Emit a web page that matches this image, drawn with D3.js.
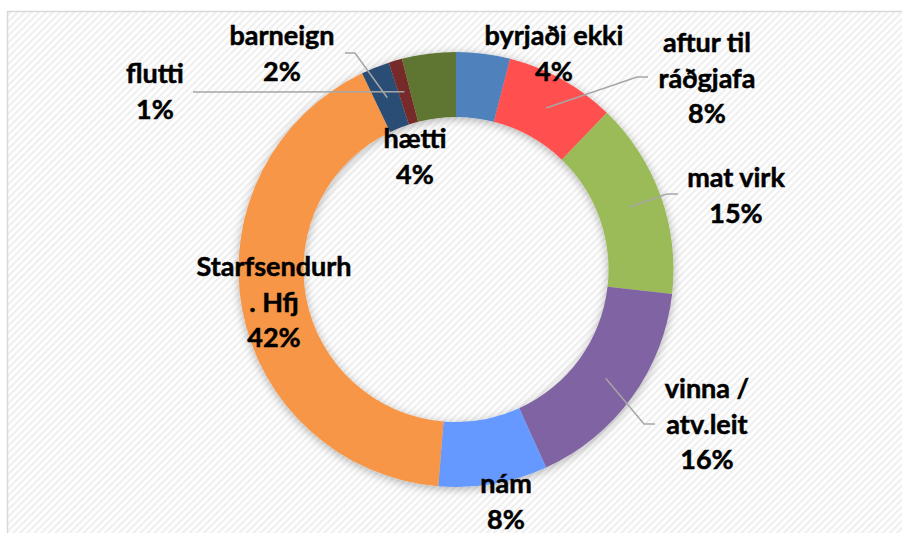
<!DOCTYPE html>
<html lang="is">
<head>
    <meta charset="UTF-8">
    <title>Donut</title>
    <style>
        body { margin: 0; background: #fff; }
        text { font-family: Lato, "Open Sans", sans-serif; font-weight: bold; fill: #000;
               stroke: #000; stroke-width: 0.5px; }
    </style>
</head>
<body>
    <svg id="container" width="902" height="533"></svg>

<script src="https://cdn.jsdelivr.net/npm/d3@7"></script>
<script>

    // data (share of each group, clockwise from 12 o'clock)
    let categories = ["byrjaði ekki", "aftur til ráðgjafa", "mat virk", "vinna / atv.leit", "nám",
                      "Starfsendurh. Hfj", "barneign", "flutti", "hætti"]
    let values = [4.0, 8.2, 14.6, 16.4, 8.1, 41.6, 2.1, 1.0, 4.0]
    let labelLines = [["byrjaði ekki"], ["aftur til", "ráðgjafa"], ["mat virk"], ["vinna /", "atv.leit"],
                      ["nám"], ["Starfsendurh", ". Hfj"], ["barneign"], ["flutti"], ["hætti"]]
    let colors = ["#4f81bd", "#ff5050", "#9bbb59", "#8064a2", "#6699ff",
                  "#f79646", "#2c4d75", "#772c2a", "#5f7530"]

    // label layout: centre x, first baseline, leader start and elbow (null = no leader)
    let labelPos = [
        {x: 554, y: 45, lead: null},
        {x: 707, y: 52, lead: [[648, 77], [637, 77]]},
        {x: 736, y: 187, lead: [[678, 194], [667, 194]]},
        {x: 707, y: 398, lead: [[655, 424], [644, 424]]},
        {x: 506, y: 493, lead: null},
        {x: 274, y: 276, lead: null},
        {x: 282, y: 45, lead: [[345, 53], [355, 53]]},
        {x: 155, y: 83, lead: [[193, 92]]},
        {x: 415, y: 148, lead: null}
    ]

    let cx = 456, cy = 269.5
    let outerR = 217.5, innerR = 152.5
    let lineH = 35.5

    let svg = d3.select("#container")
    let defs = svg.append("defs")

    let pat = defs.append("pattern")
        .attr("id", "hatch")
        .attr("patternUnits", "userSpaceOnUse")
        .attr("width", 5).attr("height", 5)
        .attr("patternTransform", "rotate(-45)")
    pat.append("rect").attr("width", 5).attr("height", 5).attr("fill", "#ffffff")
    pat.append("rect").attr("width", 5).attr("height", 2.2).attr("fill", "#efefef")

    let shadow = defs.append("filter")
        .attr("id", "shadow")
        .attr("x", "-20%").attr("y", "-20%")
        .attr("width", "140%").attr("height", "140%")
    shadow.append("feDropShadow")
        .attr("dx", 0).attr("dy", 2)
        .attr("stdDeviation", 5)
        .attr("flood-color", "#000")
        .attr("flood-opacity", 0.3)

    // chart area
    svg.append("rect")
        .attr("x", 7.5).attr("y", 11.5)
        .attr("width", 1000).attr("height", 1000)
        .attr("fill", "url(#hatch)")
        .attr("stroke", "#d9d9d9")
        .attr("stroke-width", 1.5)

    let pie = d3.pie().sort(null).value(d => d)
    let arcs = pie(values)
    let arc = d3.arc().innerRadius(innerR).outerRadius(outerR)
    let total = d3.sum(values)
    let pct = v => Math.round(v / total * 100) + "%"

    let body = svg.append("g").attr("transform", `translate(${cx},${cy})`)

    body.append("g")
        .attr("filter", "url(#shadow)")
        .selectAll("path")
        .data(arcs)
        .enter()
        .append("path")
        .attr("d", arc)
        .attr("fill", (d, i) => colors[i])

    // leader lines end at the slice centroid
    let line = d3.line()
    arcs.forEach((a, i) => {
        let p = labelPos[i]
        if (!p.lead) return
        let c = arc.centroid(a)
        let pts = p.lead.concat([[c[0] + cx, c[1] + cy]])
        svg.append("path")
            .attr("d", line(pts))
            .attr("fill", "none")
            .attr("stroke", "#a6a6a6")
            .attr("stroke-width", 1.5)
    })

    let labels = svg.append("g")
    arcs.forEach((a, i) => {
        let p = labelPos[i]
        let rows = labelLines[i].concat([pct(values[i])])
        let t = labels.append("text")
            .attr("text-anchor", "middle")
            .attr("font-size", "27px")
        rows.forEach((r, k) => {
            t.append("tspan")
                .attr("x", p.x)
                .attr("y", p.y + k * lineH)
                .text(r)
        })
    })

</script>
</body>
</html>
